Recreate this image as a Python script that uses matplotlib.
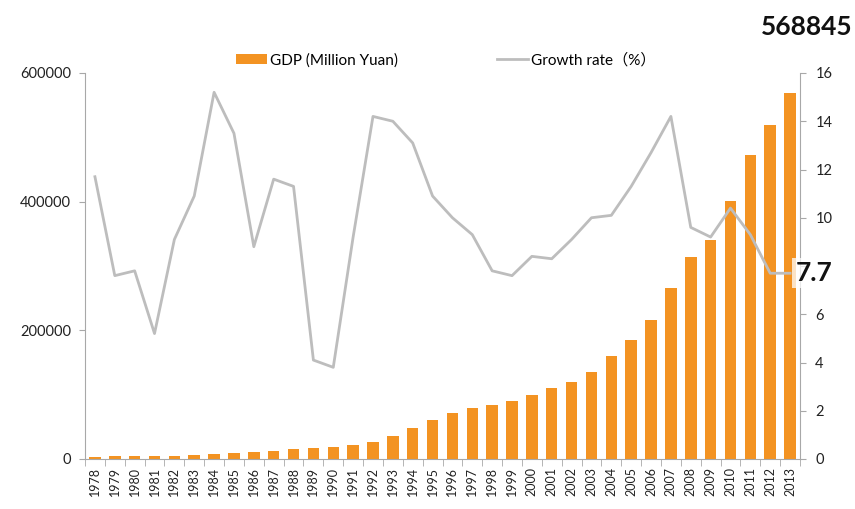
import matplotlib
matplotlib.use("Agg")
import matplotlib.pyplot as plt
from matplotlib.patches import Patch
from matplotlib.lines import Line2D
import numpy as np

years = [str(y) for y in range(1978, 2014)]
gdp = [3645, 4063, 4546, 4892, 5323, 5963, 7208, 9016, 10275, 12059, 15043, 16992,
       18668, 21782, 26924, 35334, 48198, 60794, 71177, 78973, 84402, 89677, 99215,
       109655, 120333, 135823, 159878, 184937, 216314, 265810, 314045, 340903,
       401513, 473104, 519470, 568845]
growth = [11.7, 7.6, 7.8, 5.2, 9.1, 10.9, 15.2, 13.5, 8.8, 11.6, 11.3, 4.1,
          3.8, 9.2, 14.2, 14.0, 13.1, 10.9, 10.0, 9.3, 7.8, 7.6, 8.4, 8.3,
          9.1, 10.0, 10.1, 11.3, 12.7, 14.2, 9.6, 9.2, 10.4, 9.3, 7.7, 7.7]
left_ticks = [0, 200000, 400000, 600000]
right_ticks = [0, 2, 4, 6, 8, 10, 12, 14, 16]

plt.rcParams['font.family'] = ['Lato', 'Noto Sans CJK SC', 'DejaVu Sans']
bar_color = '#F39322'
line_color = '#BDBDBD'
axis_color = '#A8A8A8'
text_color = '#222222'

fig = plt.figure(figsize=(8.55, 5.09), dpi=100)
ax = fig.add_axes([85/855, 1-459/509, (800-85)/855, (459-73)/509])
x = np.arange(len(years))
ax.bar(x, gdp, width=0.58, color=bar_color, zorder=2)
ax.set_xlim(-0.5, len(years)-0.5)
ax.set_ylim(0, 600000)
ax.set_yticks(left_ticks)
ax.set_yticklabels([str(v) for v in left_ticks], fontsize=10.5, color=text_color)
ax.set_xticks(x)
ax.set_xticklabels(years, rotation=90, fontsize=9, color=text_color)
ax.tick_params(axis='x', length=0, pad=6)
ax.set_xticks(np.arange(-0.5, len(years), 1), minor=True)
ax.tick_params(axis='x', which='minor', length=5, color=axis_color, direction='out')
ax.tick_params(axis='y', length=4, color=axis_color, pad=6)
for s in ['top', 'right']:
    ax.spines[s].set_visible(False)
for s in ['left', 'bottom']:
    ax.spines[s].set_color(axis_color)

ax2 = ax.twinx()
ax2.plot(x, growth, color=line_color, lw=2, zorder=3)
ax2.set_ylim(0, 16)
ax2.set_yticks(right_ticks)
# the "8" label is hidden behind the 7.7 callout in the reference
ax2.set_yticklabels(['' if v == 8 else str(v) for v in right_ticks], fontsize=10.5, color=text_color)
ax2.tick_params(axis='y', length=4, color=axis_color, pad=7)
for s in ['top', 'left', 'bottom']:
    ax2.spines[s].set_visible(False)
ax2.spines['right'].set_color(axis_color)

ax2.text(len(years)-0.5+0.7, growth[-1], '7.7', fontsize=19, fontweight='bold',
         ha='center', va='center', color='#111111',
         bbox=dict(boxstyle='square,pad=0.12', facecolor='white', edgecolor='none', alpha=0.75),
         zorder=5, clip_on=False)
fig.text(807/855, 1-27/509, str(gdp[-1]), fontsize=19, fontweight='bold',
         ha='center', va='center', color='#111111')

handles = [Patch(facecolor=bar_color, edgecolor='none'),
           Line2D([0], [0], color=line_color, lw=2)]
fig.legend(handles, ['GDP (Million Yuan)', 'Growth rate（%）'], loc='center',
           bbox_to_anchor=(446/855, 1-60/509), ncol=2, frameon=False,
           fontsize=11, columnspacing=6.5, handlelength=2.0, handleheight=0.7,
           handletextpad=0.2)

fig.savefig('out.png', dpi=100)
